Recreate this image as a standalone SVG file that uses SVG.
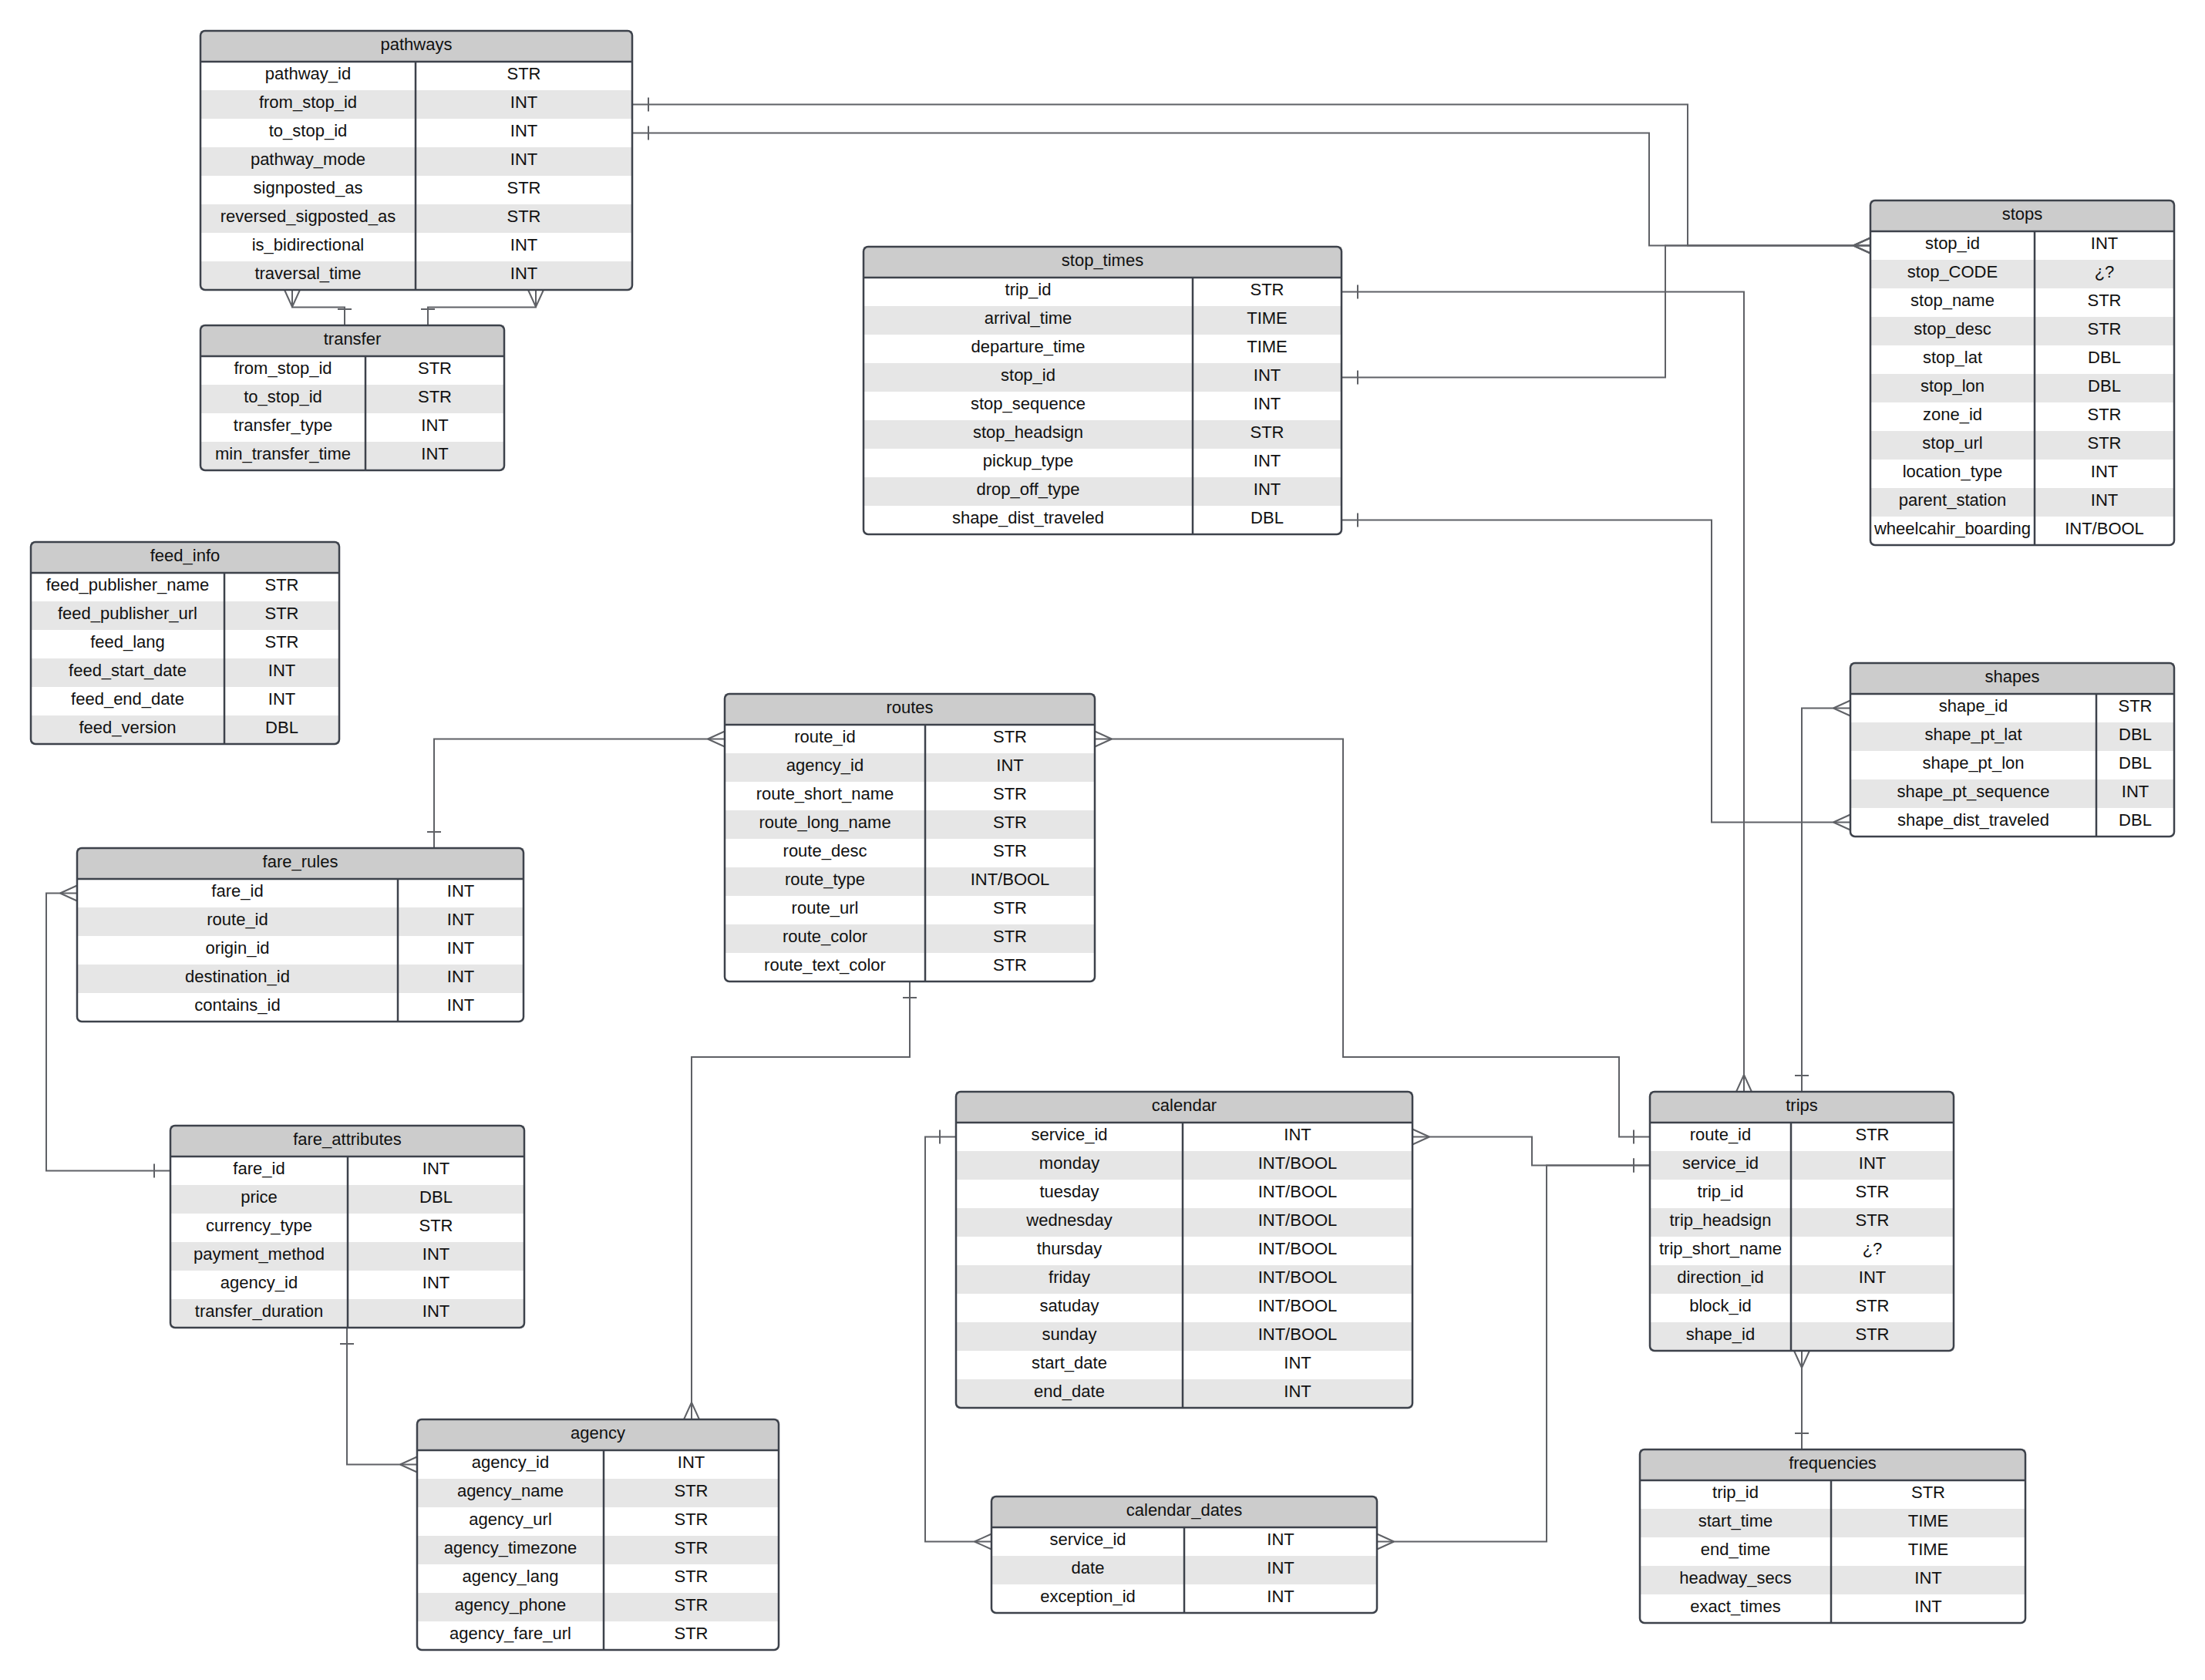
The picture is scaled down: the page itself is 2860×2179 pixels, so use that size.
<svg xmlns="http://www.w3.org/2000/svg" width="2860" height="2179" viewBox="0 0 2860 2179">
<style>
.hd{fill:#cccccc}
.alt{fill:#e6e6e6}
.body{fill:#ffffff}
.box{fill:none;stroke:#3d424b;stroke-width:2.5}
.sep{stroke:#3d424b;stroke-width:2.5}
text{font-family:"Liberation Sans",Arial,sans-serif;font-size:22px;fill:#111111;text-anchor:middle;transform:translate(0px,-3.5px)}
.conn path{fill:none;stroke:#5f6166;stroke-width:2}
</style>
<defs>
<marker id="many" markerUnits="userSpaceOnUse" markerWidth="40" markerHeight="40" viewBox="-30 -20 40 40" refX="0" refY="0" orient="auto-start-reverse" overflow="visible"><path d="M-22,0 L0,-10 M-22,0 L0,10" fill="none" stroke="#5f6166" stroke-width="2"/></marker>
<marker id="one" markerUnits="userSpaceOnUse" markerWidth="40" markerHeight="40" viewBox="-30 -20 40 40" refX="0" refY="0" orient="auto-start-reverse" overflow="visible"><path d="M-21,-9 V9" fill="none" stroke="#5f6166" stroke-width="2"/></marker>
</defs>
<rect x="0" y="0" width="2860" height="2179" fill="#ffffff"/>

<g class="conn" id="connectors">
<path d="M820,135.5 H2189 V318.5 H2426" marker-start="url(#one)" marker-end="url(#many)"/>
<path d="M820,172.5 H2139 V318.5 H2426" marker-start="url(#one)" marker-end="url(#many)"/>
<path d="M1740,489.5 H2160 V318.5 H2426" marker-start="url(#one)" marker-end="url(#many)"/>
<path d="M1740,378.5 H2262 V1416" marker-start="url(#one)" marker-end="url(#many)"/>
<path d="M1740,674.5 H2220 V1066.5 H2400" marker-start="url(#one)" marker-end="url(#many)"/>
<path d="M2337,1416 V918.5 H2400" marker-start="url(#one)" marker-end="url(#many)"/>
<path d="M2337,1752 V1880" marker-start="url(#many)" marker-end="url(#one)"/>
<path d="M1420,958.5 H1742 V1371 H2100 V1474.5 H2140" marker-start="url(#many)" marker-end="url(#one)"/>
<path d="M1832,1474.5 H1987 V1511.5 H2140" marker-start="url(#many)" marker-end="url(#one)"/>
<path d="M1786,1999.5 H2006 V1511.5 H2140" marker-start="url(#many)" marker-end="url(#one)"/>
<path d="M1240,1474.5 H1200 V1999.5 H1286" marker-start="url(#one)" marker-end="url(#many)"/>
<path d="M940,958.5 H563 V1100" marker-start="url(#many)" marker-end="url(#one)"/>
<path d="M1180,1273 V1371 H897 V1841" marker-start="url(#one)" marker-end="url(#many)"/>
<path d="M100,1158.5 H60 V1518.5 H221" marker-start="url(#many)" marker-end="url(#one)"/>
<path d="M450,1722 V1899.5 H541" marker-start="url(#one)" marker-end="url(#many)"/>
<path d="M379,376 V398.5 H447 V422" marker-start="url(#many)" marker-end="url(#one)"/>
<path d="M695,376 V398.5 H555 V422" marker-start="url(#many)" marker-end="url(#one)"/>
</g>

<g id="pathways">
<rect class="body" x="260" y="40" width="560" height="336" rx="6"/>
<rect class="hd" x="260" y="40" width="560" height="40"/>
<rect class="alt" x="260" y="117" width="560" height="37"/>
<rect class="alt" x="260" y="191" width="560" height="37"/>
<rect class="alt" x="260" y="265" width="560" height="37"/>
<rect class="alt" x="260" y="339" width="560" height="37"/>
<line class="sep" x1="260" y1="80" x2="820" y2="80"/>
<line class="sep" x1="539" y1="80" x2="539" y2="376"/>
<rect class="box" x="260" y="40" width="560" height="336" rx="6"/>
<text x="540" y="68">pathways</text>
<text x="399.5" y="106.5">pathway_id</text><text x="679.5" y="106.5">STR</text>
<text x="399.5" y="143.5">from_stop_id</text><text x="679.5" y="143.5">INT</text>
<text x="399.5" y="180.5">to_stop_id</text><text x="679.5" y="180.5">INT</text>
<text x="399.5" y="217.5">pathway_mode</text><text x="679.5" y="217.5">INT</text>
<text x="399.5" y="254.5">signposted_as</text><text x="679.5" y="254.5">STR</text>
<text x="399.5" y="291.5">reversed_sigposted_as</text><text x="679.5" y="291.5">STR</text>
<text x="399.5" y="328.5">is_bidirectional</text><text x="679.5" y="328.5">INT</text>
<text x="399.5" y="365.5">traversal_time</text><text x="679.5" y="365.5">INT</text>
</g>

<g id="transfer">
<rect class="body" x="260" y="422" width="394" height="188" rx="6"/>
<rect class="hd" x="260" y="422" width="394" height="40"/>
<rect class="alt" x="260" y="499" width="394" height="37"/>
<rect class="alt" x="260" y="573" width="394" height="37"/>
<line class="sep" x1="260" y1="462" x2="654" y2="462"/>
<line class="sep" x1="474" y1="462" x2="474" y2="610"/>
<rect class="box" x="260" y="422" width="394" height="188" rx="6"/>
<text x="457" y="450">transfer</text>
<text x="367" y="488.5">from_stop_id</text><text x="564" y="488.5">STR</text>
<text x="367" y="525.5">to_stop_id</text><text x="564" y="525.5">STR</text>
<text x="367" y="562.5">transfer_type</text><text x="564" y="562.5">INT</text>
<text x="367" y="599.5">min_transfer_time</text><text x="564" y="599.5">INT</text>
</g>

<g id="feed_info">
<rect class="body" x="40" y="703" width="400" height="262" rx="6"/>
<rect class="hd" x="40" y="703" width="400" height="40"/>
<rect class="alt" x="40" y="780" width="400" height="37"/>
<rect class="alt" x="40" y="854" width="400" height="37"/>
<rect class="alt" x="40" y="928" width="400" height="37"/>
<line class="sep" x1="40" y1="743" x2="440" y2="743"/>
<line class="sep" x1="291" y1="743" x2="291" y2="965"/>
<rect class="box" x="40" y="703" width="400" height="262" rx="6"/>
<text x="240" y="731">feed_info</text>
<text x="165.5" y="769.5">feed_publisher_name</text><text x="365.5" y="769.5">STR</text>
<text x="165.5" y="806.5">feed_publisher_url</text><text x="365.5" y="806.5">STR</text>
<text x="165.5" y="843.5">feed_lang</text><text x="365.5" y="843.5">STR</text>
<text x="165.5" y="880.5">feed_start_date</text><text x="365.5" y="880.5">INT</text>
<text x="165.5" y="917.5">feed_end_date</text><text x="365.5" y="917.5">INT</text>
<text x="165.5" y="954.5">feed_version</text><text x="365.5" y="954.5">DBL</text>
</g>

<g id="stop_times">
<rect class="body" x="1120" y="320" width="620" height="373" rx="6"/>
<rect class="hd" x="1120" y="320" width="620" height="40"/>
<rect class="alt" x="1120" y="397" width="620" height="37"/>
<rect class="alt" x="1120" y="471" width="620" height="37"/>
<rect class="alt" x="1120" y="545" width="620" height="37"/>
<rect class="alt" x="1120" y="619" width="620" height="37"/>
<line class="sep" x1="1120" y1="360" x2="1740" y2="360"/>
<line class="sep" x1="1547" y1="360" x2="1547" y2="693"/>
<rect class="box" x="1120" y="320" width="620" height="373" rx="6"/>
<text x="1430" y="348">stop_times</text>
<text x="1333.5" y="386.5">trip_id</text><text x="1643.5" y="386.5">STR</text>
<text x="1333.5" y="423.5">arrival_time</text><text x="1643.5" y="423.5">TIME</text>
<text x="1333.5" y="460.5">departure_time</text><text x="1643.5" y="460.5">TIME</text>
<text x="1333.5" y="497.5">stop_id</text><text x="1643.5" y="497.5">INT</text>
<text x="1333.5" y="534.5">stop_sequence</text><text x="1643.5" y="534.5">INT</text>
<text x="1333.5" y="571.5">stop_headsign</text><text x="1643.5" y="571.5">STR</text>
<text x="1333.5" y="608.5">pickup_type</text><text x="1643.5" y="608.5">INT</text>
<text x="1333.5" y="645.5">drop_off_type</text><text x="1643.5" y="645.5">INT</text>
<text x="1333.5" y="682.5">shape_dist_traveled</text><text x="1643.5" y="682.5">DBL</text>
</g>

<g id="stops">
<rect class="body" x="2426" y="260" width="394" height="447" rx="6"/>
<rect class="hd" x="2426" y="260" width="394" height="40"/>
<rect class="alt" x="2426" y="337" width="394" height="37"/>
<rect class="alt" x="2426" y="411" width="394" height="37"/>
<rect class="alt" x="2426" y="485" width="394" height="37"/>
<rect class="alt" x="2426" y="559" width="394" height="37"/>
<rect class="alt" x="2426" y="633" width="394" height="37"/>
<line class="sep" x1="2426" y1="300" x2="2820" y2="300"/>
<line class="sep" x1="2639" y1="300" x2="2639" y2="707"/>
<rect class="box" x="2426" y="260" width="394" height="447" rx="6"/>
<text x="2623" y="288">stops</text>
<text x="2532.5" y="326.5">stop_id</text><text x="2729.5" y="326.5">INT</text>
<text x="2532.5" y="363.5">stop_CODE</text><text x="2729.5" y="363.5">¿?</text>
<text x="2532.5" y="400.5">stop_name</text><text x="2729.5" y="400.5">STR</text>
<text x="2532.5" y="437.5">stop_desc</text><text x="2729.5" y="437.5">STR</text>
<text x="2532.5" y="474.5">stop_lat</text><text x="2729.5" y="474.5">DBL</text>
<text x="2532.5" y="511.5">stop_lon</text><text x="2729.5" y="511.5">DBL</text>
<text x="2532.5" y="548.5">zone_id</text><text x="2729.5" y="548.5">STR</text>
<text x="2532.5" y="585.5">stop_url</text><text x="2729.5" y="585.5">STR</text>
<text x="2532.5" y="622.5">location_type</text><text x="2729.5" y="622.5">INT</text>
<text x="2532.5" y="659.5">parent_station</text><text x="2729.5" y="659.5">INT</text>
<text x="2532.5" y="696.5">wheelcahir_boarding</text><text x="2729.5" y="696.5">INT/BOOL</text>
</g>

<g id="shapes">
<rect class="body" x="2400" y="860" width="420" height="225" rx="6"/>
<rect class="hd" x="2400" y="860" width="420" height="40"/>
<rect class="alt" x="2400" y="937" width="420" height="37"/>
<rect class="alt" x="2400" y="1011" width="420" height="37"/>
<line class="sep" x1="2400" y1="900" x2="2820" y2="900"/>
<line class="sep" x1="2719" y1="900" x2="2719" y2="1085"/>
<rect class="box" x="2400" y="860" width="420" height="225" rx="6"/>
<text x="2610" y="888">shapes</text>
<text x="2559.5" y="926.5">shape_id</text><text x="2769.5" y="926.5">STR</text>
<text x="2559.5" y="963.5">shape_pt_lat</text><text x="2769.5" y="963.5">DBL</text>
<text x="2559.5" y="1000.5">shape_pt_lon</text><text x="2769.5" y="1000.5">DBL</text>
<text x="2559.5" y="1037.5">shape_pt_sequence</text><text x="2769.5" y="1037.5">INT</text>
<text x="2559.5" y="1074.5">shape_dist_traveled</text><text x="2769.5" y="1074.5">DBL</text>
</g>

<g id="routes">
<rect class="body" x="940" y="900" width="480" height="373" rx="6"/>
<rect class="hd" x="940" y="900" width="480" height="40"/>
<rect class="alt" x="940" y="977" width="480" height="37"/>
<rect class="alt" x="940" y="1051" width="480" height="37"/>
<rect class="alt" x="940" y="1125" width="480" height="37"/>
<rect class="alt" x="940" y="1199" width="480" height="37"/>
<line class="sep" x1="940" y1="940" x2="1420" y2="940"/>
<line class="sep" x1="1200" y1="940" x2="1200" y2="1273"/>
<rect class="box" x="940" y="900" width="480" height="373" rx="6"/>
<text x="1180" y="928">routes</text>
<text x="1070" y="966.5">route_id</text><text x="1310" y="966.5">STR</text>
<text x="1070" y="1003.5">agency_id</text><text x="1310" y="1003.5">INT</text>
<text x="1070" y="1040.5">route_short_name</text><text x="1310" y="1040.5">STR</text>
<text x="1070" y="1077.5">route_long_name</text><text x="1310" y="1077.5">STR</text>
<text x="1070" y="1114.5">route_desc</text><text x="1310" y="1114.5">STR</text>
<text x="1070" y="1151.5">route_type</text><text x="1310" y="1151.5">INT/BOOL</text>
<text x="1070" y="1188.5">route_url</text><text x="1310" y="1188.5">STR</text>
<text x="1070" y="1225.5">route_color</text><text x="1310" y="1225.5">STR</text>
<text x="1070" y="1262.5">route_text_color</text><text x="1310" y="1262.5">STR</text>
</g>

<g id="fare_rules">
<rect class="body" x="100" y="1100" width="579" height="225" rx="6"/>
<rect class="hd" x="100" y="1100" width="579" height="40"/>
<rect class="alt" x="100" y="1177" width="579" height="37"/>
<rect class="alt" x="100" y="1251" width="579" height="37"/>
<line class="sep" x1="100" y1="1140" x2="679" y2="1140"/>
<line class="sep" x1="516" y1="1140" x2="516" y2="1325"/>
<rect class="box" x="100" y="1100" width="579" height="225" rx="6"/>
<text x="389.5" y="1128">fare_rules</text>
<text x="308" y="1166.5">fare_id</text><text x="597.5" y="1166.5">INT</text>
<text x="308" y="1203.5">route_id</text><text x="597.5" y="1203.5">INT</text>
<text x="308" y="1240.5">origin_id</text><text x="597.5" y="1240.5">INT</text>
<text x="308" y="1277.5">destination_id</text><text x="597.5" y="1277.5">INT</text>
<text x="308" y="1314.5">contains_id</text><text x="597.5" y="1314.5">INT</text>
</g>

<g id="fare_attributes">
<rect class="body" x="221" y="1460" width="459" height="262" rx="6"/>
<rect class="hd" x="221" y="1460" width="459" height="40"/>
<rect class="alt" x="221" y="1537" width="459" height="37"/>
<rect class="alt" x="221" y="1611" width="459" height="37"/>
<rect class="alt" x="221" y="1685" width="459" height="37"/>
<line class="sep" x1="221" y1="1500" x2="680" y2="1500"/>
<line class="sep" x1="451" y1="1500" x2="451" y2="1722"/>
<rect class="box" x="221" y="1460" width="459" height="262" rx="6"/>
<text x="450.5" y="1488">fare_attributes</text>
<text x="336" y="1526.5">fare_id</text><text x="565.5" y="1526.5">INT</text>
<text x="336" y="1563.5">price</text><text x="565.5" y="1563.5">DBL</text>
<text x="336" y="1600.5">currency_type</text><text x="565.5" y="1600.5">STR</text>
<text x="336" y="1637.5">payment_method</text><text x="565.5" y="1637.5">INT</text>
<text x="336" y="1674.5">agency_id</text><text x="565.5" y="1674.5">INT</text>
<text x="336" y="1711.5">transfer_duration</text><text x="565.5" y="1711.5">INT</text>
</g>

<g id="agency">
<rect class="body" x="541" y="1841" width="469" height="299" rx="6"/>
<rect class="hd" x="541" y="1841" width="469" height="40"/>
<rect class="alt" x="541" y="1918" width="469" height="37"/>
<rect class="alt" x="541" y="1992" width="469" height="37"/>
<rect class="alt" x="541" y="2066" width="469" height="37"/>
<line class="sep" x1="541" y1="1881" x2="1010" y2="1881"/>
<line class="sep" x1="783" y1="1881" x2="783" y2="2140"/>
<rect class="box" x="541" y="1841" width="469" height="299" rx="6"/>
<text x="775.5" y="1869">agency</text>
<text x="662" y="1907.5">agency_id</text><text x="896.5" y="1907.5">INT</text>
<text x="662" y="1944.5">agency_name</text><text x="896.5" y="1944.5">STR</text>
<text x="662" y="1981.5">agency_url</text><text x="896.5" y="1981.5">STR</text>
<text x="662" y="2018.5">agency_timezone</text><text x="896.5" y="2018.5">STR</text>
<text x="662" y="2055.5">agency_lang</text><text x="896.5" y="2055.5">STR</text>
<text x="662" y="2092.5">agency_phone</text><text x="896.5" y="2092.5">STR</text>
<text x="662" y="2129.5">agency_fare_url</text><text x="896.5" y="2129.5">STR</text>
</g>

<g id="calendar">
<rect class="body" x="1240" y="1416" width="592" height="410" rx="6"/>
<rect class="hd" x="1240" y="1416" width="592" height="40"/>
<rect class="alt" x="1240" y="1493" width="592" height="37"/>
<rect class="alt" x="1240" y="1567" width="592" height="37"/>
<rect class="alt" x="1240" y="1641" width="592" height="37"/>
<rect class="alt" x="1240" y="1715" width="592" height="37"/>
<rect class="alt" x="1240" y="1789" width="592" height="37"/>
<line class="sep" x1="1240" y1="1456" x2="1832" y2="1456"/>
<line class="sep" x1="1534" y1="1456" x2="1534" y2="1826"/>
<rect class="box" x="1240" y="1416" width="592" height="410" rx="6"/>
<text x="1536" y="1444">calendar</text>
<text x="1387" y="1482.5">service_id</text><text x="1683" y="1482.5">INT</text>
<text x="1387" y="1519.5">monday</text><text x="1683" y="1519.5">INT/BOOL</text>
<text x="1387" y="1556.5">tuesday</text><text x="1683" y="1556.5">INT/BOOL</text>
<text x="1387" y="1593.5">wednesday</text><text x="1683" y="1593.5">INT/BOOL</text>
<text x="1387" y="1630.5">thursday</text><text x="1683" y="1630.5">INT/BOOL</text>
<text x="1387" y="1667.5">friday</text><text x="1683" y="1667.5">INT/BOOL</text>
<text x="1387" y="1704.5">satuday</text><text x="1683" y="1704.5">INT/BOOL</text>
<text x="1387" y="1741.5">sunday</text><text x="1683" y="1741.5">INT/BOOL</text>
<text x="1387" y="1778.5">start_date</text><text x="1683" y="1778.5">INT</text>
<text x="1387" y="1815.5">end_date</text><text x="1683" y="1815.5">INT</text>
</g>

<g id="calendar_dates">
<rect class="body" x="1286" y="1941" width="500" height="151" rx="6"/>
<rect class="hd" x="1286" y="1941" width="500" height="40"/>
<rect class="alt" x="1286" y="2018" width="500" height="37"/>
<line class="sep" x1="1286" y1="1981" x2="1786" y2="1981"/>
<line class="sep" x1="1536" y1="1981" x2="1536" y2="2092"/>
<rect class="box" x="1286" y="1941" width="500" height="151" rx="6"/>
<text x="1536" y="1969">calendar_dates</text>
<text x="1411" y="2007.5">service_id</text><text x="1661" y="2007.5">INT</text>
<text x="1411" y="2044.5">date</text><text x="1661" y="2044.5">INT</text>
<text x="1411" y="2081.5">exception_id</text><text x="1661" y="2081.5">INT</text>
</g>

<g id="trips">
<rect class="body" x="2140" y="1416" width="394" height="336" rx="6"/>
<rect class="hd" x="2140" y="1416" width="394" height="40"/>
<rect class="alt" x="2140" y="1493" width="394" height="37"/>
<rect class="alt" x="2140" y="1567" width="394" height="37"/>
<rect class="alt" x="2140" y="1641" width="394" height="37"/>
<rect class="alt" x="2140" y="1715" width="394" height="37"/>
<line class="sep" x1="2140" y1="1456" x2="2534" y2="1456"/>
<line class="sep" x1="2323" y1="1456" x2="2323" y2="1752"/>
<rect class="box" x="2140" y="1416" width="394" height="336" rx="6"/>
<text x="2337" y="1444">trips</text>
<text x="2231.5" y="1482.5">route_id</text><text x="2428.5" y="1482.5">STR</text>
<text x="2231.5" y="1519.5">service_id</text><text x="2428.5" y="1519.5">INT</text>
<text x="2231.5" y="1556.5">trip_id</text><text x="2428.5" y="1556.5">STR</text>
<text x="2231.5" y="1593.5">trip_headsign</text><text x="2428.5" y="1593.5">STR</text>
<text x="2231.5" y="1630.5">trip_short_name</text><text x="2428.5" y="1630.5">¿?</text>
<text x="2231.5" y="1667.5">direction_id</text><text x="2428.5" y="1667.5">INT</text>
<text x="2231.5" y="1704.5">block_id</text><text x="2428.5" y="1704.5">STR</text>
<text x="2231.5" y="1741.5">shape_id</text><text x="2428.5" y="1741.5">STR</text>
</g>

<g id="frequencies">
<rect class="body" x="2127" y="1880" width="500" height="225" rx="6"/>
<rect class="hd" x="2127" y="1880" width="500" height="40"/>
<rect class="alt" x="2127" y="1957" width="500" height="37"/>
<rect class="alt" x="2127" y="2031" width="500" height="37"/>
<line class="sep" x1="2127" y1="1920" x2="2627" y2="1920"/>
<line class="sep" x1="2375" y1="1920" x2="2375" y2="2105"/>
<rect class="box" x="2127" y="1880" width="500" height="225" rx="6"/>
<text x="2377" y="1908">frequencies</text>
<text x="2251" y="1946.5">trip_id</text><text x="2501" y="1946.5">STR</text>
<text x="2251" y="1983.5">start_time</text><text x="2501" y="1983.5">TIME</text>
<text x="2251" y="2020.5">end_time</text><text x="2501" y="2020.5">TIME</text>
<text x="2251" y="2057.5">headway_secs</text><text x="2501" y="2057.5">INT</text>
<text x="2251" y="2094.5">exact_times</text><text x="2501" y="2094.5">INT</text>
</g>
</svg>
